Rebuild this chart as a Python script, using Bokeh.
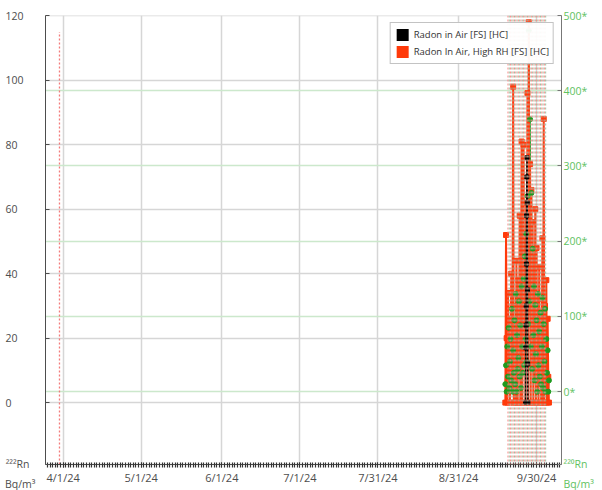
import pandas as pd
from bokeh.plotting import figure
from bokeh.models import (Range1d, LinearAxis, FixedTicker, DatetimeTickFormatter,
                          CustomJSTickFormatter, Grid, Span,
                          Legend, LegendItem, ColumnDataSource)
from bokeh.embed import file_html
from bokeh.resources import INLINE

# ---------------- data ----------------
x_tick_dates = ["2024-04-01", "2024-05-01", "2024-06-01", "2024-07-01",
                "2024-07-31", "2024-08-31", "2024-09-30"]
left_ticks = [0, 20, 40, 60, 80, 100, 120]
right_ticks = [0, 100, 200, 300, 400, 500]
left_unit = "\n\n²²²Rn\u2007\nBq/m³"
right_unit = "\n\n²²⁰Rn\nBq/m³"

series_start = "2024-09-18 00:00"
series_step = "6h"
# Radon In Air, High RH [FS] [HC]  (left axis, Bq/m3)
red_vals = [0, 52, 20, 0, 34, 8, 26, 0, 18, 40, 5, 30, 98, 0, 22, 12,
            0, 44, 16, 0, 38, 10, 58, 0, 24, 81, 0, 36, 80, 14, 50, 0,
            62, 20, 96, 0, 118, 28, 74, 0, 66, 12, 56, 0, 45, 18, 60, 0,
            48, 10, 32, 0, 42, 6, 28, 0, 20, 51, 0, 88, 0, 30, 14, 38,
            0, 26, 8, 0]
# 220Rn (right axis, Bq/m3)
green_vals = [10, 35, 0, 60, 20, 85, 5, 40, 70, 15, 110, 0, 55, 25, 95, 10,
              130, 0, 75, 30, 45, 120, 20, 88, 5, 140, 60, 25, 150, 35, 180, 70,
              210, 40, 260, 90, 480, 120, 362, 60, 264, 30, 190, 75, 140, 15, 115, 50,
              95, 0, 130, 35, 80, 20, 105, 10, 60, 125, 5, 90, 40, 110, 0, 70,
              25, 55, 0, 15]
# Radon in Air [FS] [HC]  (left axis)
black_times = ["2024-09-25 18:00", "2024-09-25 20:00", "2024-09-25 22:00",
               "2024-09-26 00:00", "2024-09-26 02:00", "2024-09-26 04:00",
               "2024-09-26 06:00", "2024-09-26 08:00", "2024-09-26 10:00",
               "2024-09-26 12:00", "2024-09-26 14:00", "2024-09-26 16:00"]
black_vals = [0, 17, 24, 30, 43, 58, 70, 76, 62, 35, 12, 0]

red_flag_times = ["2024-09-19", "2024-09-20", "2024-09-21", "2024-09-22", "2024-09-23",
                  "2024-09-24", "2024-09-25", "2024-09-26", "2024-09-27", "2024-09-28",
                  "2024-09-29", "2024-09-30", "2024-10-01", "2024-10-02", "2024-10-03"]
green_flag_times = ["2024-09-19 12:00", "2024-09-20 12:00", "2024-09-21 12:00",
                    "2024-09-22 12:00", "2024-09-23 12:00", "2024-09-24 12:00",
                    "2024-09-25 12:00", "2024-09-26 12:00", "2024-09-27 12:00",
                    "2024-09-28 12:00", "2024-09-29 12:00", "2024-09-30 12:00",
                    "2024-10-01 12:00", "2024-10-02 12:00", "2024-10-03 12:00"]
early_flag_time = ["2024-03-30 14:00"]
early_flag_top = [115]

x_start, x_end = "2024-03-25 05:00", "2024-10-09 14:00"
left_lim = (-19.2, 120.1)
right_lim = (-96.8, 500)

# ---------------- styles ----------------
RED = "#ff3a0a"
GREEN = "#1e9a1e"
FONT = "Open Sans"
TICK_COLOR = "#4d4d4d"
GREEN_TXT = "#5fc25f"


def ms(t):
    return pd.Timestamp(t).value / 1e6


red_times = pd.date_range(series_start, periods=len(red_vals), freq=series_step)
green_times = pd.date_range(series_start, periods=len(green_vals), freq=series_step)

p = figure(width=602, height=490, x_axis_type="datetime", output_backend="svg",
           toolbar_location=None,
           x_range=Range1d(pd.Timestamp(x_start), pd.Timestamp(x_end)),
           y_range=Range1d(*left_lim),
           min_border_left=45, min_border_right=41, min_border_top=15, min_border_bottom=26)
p.outline_line_color = None
p.background_fill_color = "white"
p.extra_y_ranges = {"right": Range1d(*right_lim)}

# x axis
xticker = FixedTicker(ticks=[ms(d) for d in x_tick_dates],
                      minor_ticks=[ms(d) for d in pd.date_range("2024-03-20", "2024-10-12", freq="1D")])
p.xaxis.ticker = xticker
fmt = "%-m/%-d/%y"
p.xaxis.formatter = DatetimeTickFormatter(milliseconds=fmt, seconds=fmt, minsec=fmt, minutes=fmt,
                                          hourmin=fmt, hours=fmt, days=fmt, months=fmt, years=fmt)
xa = p.xaxis[0]
xa.axis_line_color = TICK_COLOR
xa.major_tick_line_color = "#333333"
xa.minor_tick_line_color = "#333333"
xa.minor_tick_line_width = 1.2
xa.major_tick_in = 2
xa.major_tick_out = 3
xa.minor_tick_in = 2
xa.minor_tick_out = 3
xa.major_label_text_font = FONT
xa.major_label_text_font_size = "11px"
xa.major_label_text_color = TICK_COLOR
xa.major_label_standoff = 2

# left axis (unit caption shown as the label of a tick at the bottom edge)
lo_left = left_lim[0] + 0.05
ya = p.yaxis[0]
ya.ticker = FixedTicker(ticks=left_ticks + [lo_left])
ya.formatter = CustomJSTickFormatter(args=dict(unit=left_unit, lo=left_lim[0] + 1), code="""
if (tick < lo) { return unit; }
var s = tick.toFixed(0);
while (s.length < 5) { s = s + "\\u2007"; }
return s;""")
ya.axis_line_color = TICK_COLOR
ya.major_tick_line_color = TICK_COLOR
ya.major_tick_in = 4
ya.major_tick_out = 0
ya.minor_tick_line_color = None
ya.major_label_text_font = FONT
ya.major_label_text_font_size = "10.5px"
ya.major_label_text_color = TICK_COLOR
ya.major_label_text_line_height = 1.4
ya.major_label_standoff = 10

# right axis
lo_right = right_lim[0] + 0.2
ra = LinearAxis(y_range_name="right", ticker=FixedTicker(ticks=right_ticks + [lo_right]),
                formatter=CustomJSTickFormatter(args=dict(unit=right_unit, lo=right_lim[0] + 5), code="""
if (tick < lo) { return unit; }
return tick.toFixed(0) + "*";"""))
ra.axis_line_color = "#777777"
ra.major_tick_line_color = "#777777"
ra.major_tick_in = 4
ra.major_tick_out = 0
ra.minor_tick_line_color = None
ra.major_label_text_font = FONT
ra.major_label_text_font_size = "10.5px"
ra.major_label_text_color = GREEN_TXT
ra.major_label_text_line_height = 1.4
ra.major_label_standoff = 2
p.add_layout(ra, "right")

# grids
p.xgrid.ticker = xticker
p.xgrid.grid_line_color = "#d6d6d6"
p.xgrid.grid_line_width = 1.5
p.ygrid.ticker = FixedTicker(ticks=left_ticks)
p.ygrid.grid_line_color = "#d6d6d6"
p.ygrid.grid_line_width = 1.5
g2 = Grid(dimension=1, ticker=FixedTicker(ticks=right_ticks), y_range_name="right",
          grid_line_color="#cce8cc", grid_line_width=1.5)
p.add_layout(g2)

# flag lines
for t in red_flag_times:
    p.add_layout(Span(location=ms(t), dimension="height", line_color="#ff8080",
                      line_alpha=0.9, line_dash="2 2", line_width=1))
for t in green_flag_times:
    p.add_layout(Span(location=ms(t), dimension="height", line_color="#94b894",
                      line_alpha=0.9, line_dash="2 2", line_width=1))
early_src = ColumnDataSource(dict(x=pd.to_datetime(early_flag_time),
                                  y0=[left_lim[0]] * len(early_flag_time),
                                  y1=early_flag_top))
p.segment(x0="x", y0="y0", x1="x", y1="y1", source=early_src, line_color="#f26d6d",
          line_alpha=0.9, line_dash="2 2", line_width=1.3)

# series
p.line(green_times, green_vals, line_color=GREEN, line_width=1.5, y_range_name="right")
p.line(red_times, red_vals, line_color=RED, line_width=2)
p.scatter(red_times, red_vals, marker="square", size=5, color=RED)
p.scatter(green_times, green_vals, marker="circle", size=5, color=GREEN, y_range_name="right")
bt = pd.to_datetime(black_times)
p.line(bt, black_vals, line_color="black", line_width=1.5)
p.scatter(bt, black_vals, marker="square", size=4, color="black")

# legend swatches: zero-area quads on the series points (invisible in the plot)
lg_black = p.quad(left=bt, right=bt, bottom=black_vals, top=black_vals,
                  fill_color="black", line_color=None)
lg_red = p.quad(left=red_times, right=red_times, bottom=red_vals, top=red_vals,
                fill_color=RED, line_color=None)
legend = Legend(items=[LegendItem(label="Radon in Air [FS] [HC]", renderers=[lg_black]),
                       LegendItem(label="Radon In Air, High RH [FS] [HC]", renderers=[lg_red])],
                location="top_right")
legend.border_line_color = "#888888"
legend.label_text_font = FONT
legend.label_text_font_size = "9.5px"
legend.label_text_color = "#333333"
legend.glyph_width = 15
legend.glyph_height = 15
legend.label_height = 15
legend.spacing = 2
legend.padding = 4
legend.margin = 7
legend.label_standoff = 4
p.add_layout(legend)

open("out.html", "w").write(file_html(p, INLINE))
